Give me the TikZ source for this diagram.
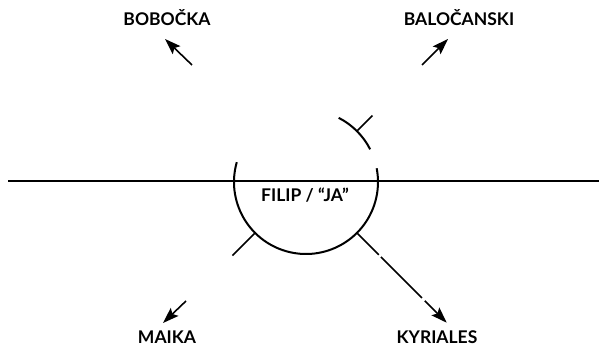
\documentclass[tikz,border=0pt]{standalone}
\usepackage{fontspec}
\setmainfont{Lato}
\usetikzlibrary{arrows.meta,calc}
\begin{document}
\begin{tikzpicture}[x=1pt,y=1pt,
  lbl/.style={inner sep=0pt,anchor=base,font=\fontsize{17.5}{20}\selectfont\bfseries},
  thick line/.style={line width=2pt},
  arr/.style={line width=1.6pt,-{Stealth[length=16pt,width=11pt,inset=3pt]}},
  tk/.style={line width=1.6pt}]
\useasboundingbox (0,0) rectangle (599,347);
\coordinate (c) at (306,165);
% horizontal line
\coordinate (hl) at (8,166);
\coordinate (hr) at (599,166);
\draw[thick line] (hl) -- (hr);
% main arc
\draw[thick line] ($(c)+(164:72)$) arc[start angle=164,end angle=371,radius=72];
% upper arc
\draw[thick line] ($(c)+(27:72)$) arc[start angle=27,end angle=63,radius=72];
% ticks
\draw[tk] ($(c)+(45:72)$) -- ($(c)+(45:94)$);
\draw[tk] ($(c)+(225:72)$) -- ($(c)+(225:104)$);
\draw[tk] ($(c)+(315:72)$) -- ($(c)+(315:103)$);
% labels
\node[lbl] (ja) at (305,145) {FILIP / “JA”};
\node[lbl] (bob) at (167,321) {BOBOČKA};
\node[lbl] (bal) at (459,321) {BALOČANSKI};
\node[lbl] (mai) at (167,3) {MAIKA};
\node[lbl] (kyr) at (437,3) {KYRIALES};
% arrows
\coordinate (bs) at (192,282); \coordinate (bt) at (165,308);
\draw[arr] (bs) -- (bt);
\coordinate (ls) at (422,282); \coordinate (lt) at (448,308);
\draw[arr] (ls) -- (lt);
\coordinate (ms) at (186,46); \coordinate (mt) at (163,24);
\draw[arr] (ms) -- (mt);
\coordinate (k1) at ($(c)+(315:106)$);
\coordinate (k2) at ($(c)+(315:164)$);
\coordinate (k3) at ($(c)+(315:168)$);
\coordinate (kt) at ($(c)+(315:199)$);
\draw[tk] (k1) -- (k2);
\draw[arr] (k3) -- (kt);
\end{tikzpicture}
\end{document}
